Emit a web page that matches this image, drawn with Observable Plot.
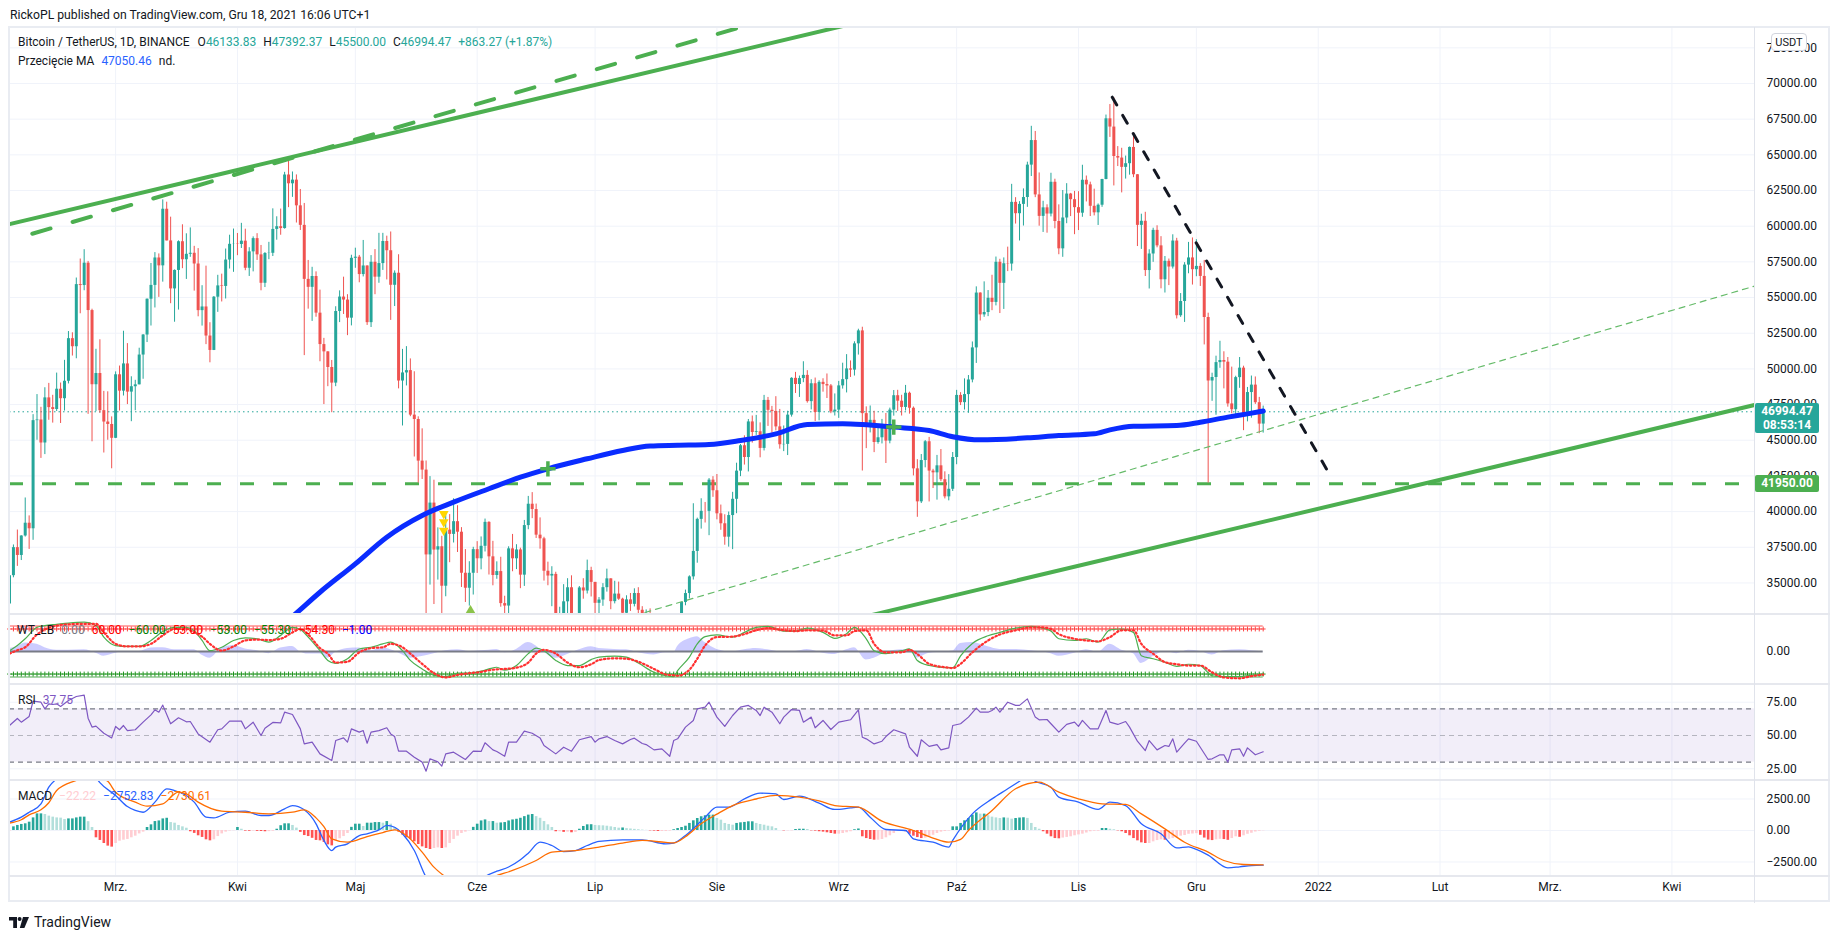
<!DOCTYPE html>
<html>
<head>
<meta charset="utf-8">
<title>Bitcoin / TetherUS, 1D, BINANCE</title>
<script src="https://cdn.jsdelivr.net/npm/d3@7"></script>
<script src="https://cdn.jsdelivr.net/npm/@observablehq/plot@0.6"></script>
<style>
  html, body { margin: 0; padding: 0; background: #fff; }
  body { width: 1834px; height: 939px; position: relative; overflow: hidden;
         font-family: Roboto, "Liberation Sans", sans-serif; color: #131722; }
  .abs { position: absolute; }
  .pane svg { display: block; overflow: visible; }
  .legend { position: absolute; font-size: 12px; line-height: 16px; white-space: nowrap; }
  .legend span { margin-right: 7px; }
  .tag { position: absolute; color: #fff; font-size: 12px; font-weight: 700; text-align: center;
         border-radius: 2px; line-height: 14px; }
</style>
</head>
<body>
<div class="abs" style="left:10px; top:7px; font-size:12.2px; line-height:16px; color:#131722;">RickoPL published on TradingView.com, Gru 18, 2021 16:06 UTC+1</div>
<script>
// ---------------------------------------------------------------------------
// Daily BTC/USDT candles, 2021-02-02 .. 2021-12-18 (open = previous close)
// ---------------------------------------------------------------------------
const firstOpen = 33520;
const lastOpen = 46133.83;
const closes = [
  35510,37473,36926,38290,39186,38796,46374,46420,44807,47969,47287,47153,48577,47911,49133,52119,51553,55906,55841,57408,54088,48891,49676,47073,46276,46106,45135,
  49587,48440,50349,48374,48751,48882,50971,52375,54884,55851,57773,57221,61188,58968,55605,56900,58912,57648,58030,58102,57351,54083,54340,52303,51293,55025,55817,55777,57628,58730,58741,
  58720,58950,57051,58202,59129,57991,56000,58088,58102,59774,59965,59835,63588,62971,63229,61427,60058,56274,55716,56474,53906,51705,51194,50097,49004,54021,55034,54824,53555,57750,
  57828,56610,57213,53241,57473,56428,57380,58928,58280,55859,56704,49150,49716,49880,46760,46456,43538,42909,36964,40596,37304,37537,34770,38705,38403,39294,38556,35680,34628,35678,37333,
  36693,37568,39246,36830,35520,35797,33552,33380,37389,36693,37313,35546,39020,40516,40144,38349,38092,35820,35484,35600,31608,32509,33678,34663,31594,32243,34650,34435,35868,35040,
  33572,33802,34669,35287,33690,34220,33862,32875,33815,33502,34259,33086,32729,32820,31880,31383,31520,31778,30839,29791,32144,32287,33634,34258,35425,37208,39456,40019,40016,42206,41461,
  39845,39147,38207,39723,40862,42836,44614,43792,46285,45543,45595,44428,47793,47096,47019,45936,44686,44709,46760,49339,48905,49321,49546,47706,48960,46942,49058,48902,48806,46985,47112,
  48810,49246,49999,49915,51756,52663,46864,46048,46395,44843,45173,46025,44940,47112,48121,47737,47299,48293,47242,42996,40683,43578,44895,42839,42716,43208,42235,41034,41564,43790,
  48141,47634,48200,49224,51471,55315,53785,53951,54949,54659,57471,55996,57367,57347,61672,60875,61528,62009,64280,66001,62193,60688,61286,60852,63078,60328,58413,60575,62253,61859,61300,
  60911,63219,62896,61395,60937,61470,63273,67525,66947,64882,64774,64122,64380,65519,63606,60058,60344,56891,58052,59707,58622,56247,57541,57138,58960,53726,54721,57274,57776,56950,
  57184,56480,53601,49152,49396,50441,50589,50471,47545,47140,49389,50053,46702,48343,48864,47632,46131.2,46994.47
];
const highs = [
  35984,37662,38708,38310,40955,39700,46794,48200,47310,48678,48985,48150,49707,49010,50600,52618,52530,56368,57700,58352,57533,54183,51374,52041,48425,48394,46638,
  49790,50200,52640,51773,49448,49200,51450,52402,54900,57387,58150,58058,61844,61683,60633,56938,58974,60100,59468,59880,58589,58430,55830,57200,53237,55073,56559,56640,58400,59368,59800,
  59490,60200,59791,58493,59252,59476,58650,58153,58869,61217,60659,61200,63774,64854,63800,63594,62572,61593,57600,57119,56800,55521,52140,51200,50591,54357,55468,56428,55200,57963,
  58458,57950,59000,57220,57939,58360,59500,59500,59300,59595,56868,58000,51367,51560,50700,49800,46643,45800,43546,42451,42200,38861,38270,39920,39791,40900,40411,38877,37338,36488,37499,
  37894,38225,39476,39289,37917,36480,36800,34068,37534,38400,37680,37436,39380,41064,41330,40527,39559,38202,36457,36137,35750,33298,34881,35298,35500,32730,34749,35297,36600,36100,
  35036,33977,34951,35967,35293,35118,35059,33929,34100,34262,34590,34666,33337,33114,33185,32249,31949,32435,31899,31063,32858,32591,33650,34500,35500,40550,39542,40900,40640,42316,42448,
  42599,40459,39780,39969,41350,43392,44700,45310,46454,46700,46743,46218,48144,48000,47372,48053,47160,46000,47033,49382,49757,49500,50500,49875,49240,49358,49171,49309,49644,48906,48246,
  49125,50400,51000,50558,51900,52780,52920,47340,47400,47031,45987,46460,46876,47250,48484,48500,48150,48843,48372,47333,43639,44000,44978,45200,42963,43937,44350,42787,42590,44141,
  48495,48336,49300,49536,51886,55750,55332,56100,55490,56561,57839,57680,57777,58532,62933,62000,61720,62614,64486,67000,66639,63732,61747,61500,63710,63293,61496,62499,62980,62300,62437,
  62419,64270,63516,63086,62595,61560,63286,67789,68524,69000,65579,65460,64915,65550,66401,63617,60840,60976,58350,59859,60030,59266,57875,57700,59398,59150,55280,57445,58865,59176,
  59053,57375,57600,53904,49699,50891,51936,51200,50797,50125,49485,50797,50189,48700,49500,49436,48004,47392.37
];
const lows = [
  33418,35362,36161,36570,38215,37351,37988,45000,43727,43994,46400,46202,47014,46174,47047,48947,50901,50710,53863,55477,46815,44892,47003,46882,44106,45000,43000,
  45115,47047,48100,47500,46300,47070,48882,49274,51846,53005,54269,55013,56079,58966,54568,53271,54123,57023,56270,57820,55450,53650,53000,51700,50427,51283,53961,54691,54900,57000,56769,
  57935,58439,56880,56478,56800,57600,55473,55700,57654,57875,59018,59366,59792,61301,62020,60222,59700,50931,54187,53328,53621,50500,47500,48753,46930,48754,53244,53814,52330,53013,
  57050,56035,56444,53046,52900,55200,56000,56900,56235,53400,54370,48600,46000,48805,46650,43825,42001,42250,30000,34850,33488,35200,31111,34031,36419,37800,37134,34684,33632,33379,34153,
  35667,35920,37170,35555,34800,35258,33300,31000,32396,35784,35936,34600,34757,38730,39506,38116,37365,35129,34803,33336,31251,28805,31683,32286,31275,30151,32000,33862,34225,34017,
  32711,32699,33363,34357,33125,33532,33777,32077,32261,33004,33320,32658,32202,31550,31133,31020,31179,31108,30407,29278,29482,31708,32000,33401,33881,35205,36383,38772,39200,38313,41000,
  39422,38690,37642,37508,37332,39853,42450,43261,42779,44800,45341,43770,44250,45971,45500,45660,44376,44203,43927,46622,48280,48000,49034,47600,47126,46315,46361,48370,47925,46862,46700,
  46533,48584,48316,49400,49500,50969,42843,44412,45514,44132,44722,44742,43370,44750,46689,47020,46699,47050,46829,42500,39600,40565,43067,40675,41616,40803,42098,40888,40753,41410,
  43283,47430,47119,46891,49022,50382,53357,53617,53661,54080,54415,53879,54167,56818,56850,60150,58963,60012,61322,63481,62000,60000,59562,59510,60650,59817,58000,57820,60174,60674,59405,
  59695,60624,61700,60677,60721,60050,61322,63250,66222,62822,64180,62333,63303,63576,63400,58574,58373,56474,55600,57469,58486,55610,55317,55837,57000,53500,53610,53256,56666,55875,
  56458,55777,51680,42000,47727,46752,50040,48600,47320,46852,46751,48638,45672,46290,46547,47511,45456,45500
];

// 200-day moving average, [day index, value]
const ma200 = [[66,31300],[72,32650],[79,34350],[88,36340],[96,38210],[105,39730],[113,40660],[122,41600],[130,42410],[137,43000],[147,43700],[156,44280],[163,44600],[170,44650],[178,44700],[186,44980],[195,45450],[203,46100],[212,46150],[217,46100],[225,45920],[234,45680],[240,45250],[247,45030],[259,45170],[267,45330],[276,45450],[280,45730],[286,45980],[297,46030],[303,46260],[310,46620],[315,46850],[319,47050.46]];
const maCrosses = [[137, 43000], [225, 45920]];
const sellMarks = [[110.5, 39840], [110.5, 39260], [110.5, 38680]];
const buyMarks = [[117.3, 33070]];

// Drawn trend lines, [day index, price]
const channelTop = [[-2, 60010], [215, 74220]];
const channelTopDashed = [[5.8, 59470], [190, 74260]];
const channelBottom = [[219, 32730], [446, 47600]];
const risingSupport = [[159, 32710], [446, 55960]];
const fallingResistance = [[280.6, 69040], [335.5, 42800]];
const support = 41950;

// WaveTrend [day index, wt1, wt2]
const waveTrend = [[0,2,-5],[2,14,3],[4,30,10],[7,57,40],[9,61,52],[12,64,61],[15,67,64],[19,69,65],[22,61,65],[24,34,45],[27,14,18],[30,12,12],[33,12,12],[36,26,18],[39,47,38],[42,57,53],[45,57,53],[47,49,45],[49,26,35],[51,2,18],[54,10,2],[57,26,12],[60,32,26],[63,30,28],[66,22,27],[69,38,30],[72,57,45],[74,52,53],[76,34,40],[79,2,8],[81,-21,-5],[83,-28,-26],[86,-17,-24],[89,6,-2],[92,10,8],[95,18,10],[97,22,18],[100,2,10],[102,-21,-5],[105,-41,-29],[108,-56,-51],[111,-59,-61],[114,-51,-55],[117,-51,-51],[120,-46,-48],[122,-41,-44],[124,-37,-42],[126,-44,-41],[129,-33,-38],[132,-5,-26],[134,8,-5],[136,2,4],[139,-21,-5],[142,-33,-26],[145,-33,-37],[148,-19,-30],[150,-13,-20],[154,-11,-16],[157,-13,-17],[160,-27,-24],[164,-49,-41],[167,-57,-54],[169,-59,-56],[170,-45,-57],[173,-13,-43],[175,18,-17],[177,35,14],[180,39,34],[184,34,35],[187,45,41],[190,57,50],[193,59,55],[197,48,50],[200,48,48],[203,55,50],[207,45,49],[210,31,38],[213,42,38],[215,57,48],[218,30,50],[220,2,18],[223,-5,-2],[227,2,-2],[229,6,4],[231,-21,-6],[234,-33,-29],[238,-38,-37],[240,-38,-39],[242,-10,-29],[245,19,-2],[249,37,26],[252,45,40],[256,55,50],[260,59,57],[262,57,57],[265,48,53],[267,30,41],[271,26,30],[274,30,26],[277,22,24],[280,51,34],[283,53,50],[286,45,50],[288,-10,18],[291,-17,-5],[294,-25,-25],[297,-35,-30],[300,-30,-33],[303,-33,-33],[306,-57,-49],[309,-59,-61],[313,-59,-63],[316,-56,-58],[319,-55.3,-54.3]];
const wtLevels = {ob1: 60, ob2: 53, os1: -60, os2: -53};

// RSI(14) [day index, value]
const rsi = [[0,57.5],[2,62.8],[3,60],[5,64.3],[6,75.8],[8,75],[9,70],[10,73.8],[11,73.3],[12,73.8],[13,71.8],[15,76.3],[17,79.3],[19,80.3],[20,63],[21,56.3],[22,57],[24,51.7],[26,48.2],[27,56.8],[28,54.3],[29,57.5],[30,53.7],[32,54.3],[34,60],[36,65.5],[37,69.3],[38,67.5],[39,72.8],[41,58.8],[43,63.3],[45,60.3],[46,60.5],[48,51.2],[51,45],[53,54.3],[54,55],[56,60.8],[59,60.8],[60,55],[62,60],[64,50],[65,55.5],[67,59.8],[69,59.5],[70,67.5],[72,65.8],[74,55],[75,43.7],[77,45],[79,36.2],[82,31.2],[83,46.2],[85,48.2],[86,45],[87,55],[89,52.5],[90,53.7],[91,44.2],[92,52.5],[94,53.7],[96,55.8],[97,51.2],[98,49.2],[99,38.2],[101,38.2],[103,33.7],[105,30],[106,23.2],[107,32.5],[109,30.2],[110,27],[111,36.2],[113,37.5],[116,32],[118,38.2],[120,38],[121,44.5],[123,39.2],[124,38],[126,34.4],[127,45],[129,45],[131,53.3],[133,51.7],[135,48.2],[136,42.5],[139,36.2],[141,41.2],[143,38.2],[145,46.8],[148,49.2],[149,45],[150,47.5],[152,49.2],[154,46.2],[156,43.7],[158,47],[159,48],[161,44],[162,43.2],[164,39.2],[166,40],[168,34.4],[169,46.2],[170,47.5],[172,56.3],[174,61.3],[175,70],[177,71.3],[178,75],[180,63.8],[182,56.8],[184,65],[186,71.3],[188,72.6],[190,68.8],[191,65],[192,71.3],[194,67.5],[196,58.8],[197,63.8],[199,69.5],[201,68.8],[202,60],[204,63.8],[205,55.8],[207,61.3],[209,54.5],[211,60],[214,61.8],[216,69.3],[217,48.7],[218,47.5],[220,43.7],[222,45.7],[223,49.2],[225,54.3],[228,51.2],[229,41.2],[231,34.4],[232,46.8],[234,41.8],[236,43.2],[237,39.2],[239,40.7],[240,57.5],[242,58.8],[244,63.8],[246,70.6],[247,67.5],[249,67.5],[250,68.8],[251,71.3],[252,67.5],[254,75],[256,72.6],[257,72.6],[259,77.5],[261,63.8],[262,61.8],[264,62],[265,58.8],[267,52.5],[269,58.3],[271,60],[272,56.8],[273,61.3],[275,55],[277,55],[279,68.8],[280,60],[282,58.3],[284,60.5],[285,56.3],[287,45.7],[289,38.7],[290,46.2],[292,39.2],[294,42.5],[295,41.8],[296,47.5],[297,37.5],[299,44.3],[300,47.5],[302,45.7],[305,32],[306,32.5],[308,35.5],[309,35.5],[310,30],[311,39.2],[313,40],[314,34.4],[315,40.7],[317,35.5],[319,37.75]];
const rsiLevels = [70, 50, 30];

// MACD(12, 26, 9)
const macdLine = [[0,660],[3,1060],[5,1450],[8,2115],[10,3440],[12,4100],[15,4700],[18,5100],[20,4900],[22,4200],[23,3800],[27,2780],[30,1900],[32,1590],[34,1450],[37,2250],[40,3310],[42,3170],[45,2780],[47,2250],[50,1060],[52,1000],[56,1450],[60,1530],[64,1190],[66,1190],[70,1720],[72,1980],[75,1640],[78,530],[80,-790],[82,-1590],[83,-1320],[86,-1060],[89,-400],[91,-260],[94,50],[96,400],[98,260],[100,-260],[103,-1590],[106,-3700],[109,-4700],[112,-5200],[116,-4800],[119,-4100],[121,-3650],[124,-3230],[127,-2900],[130,-2330],[132,-1800],[135,-930],[138,-1190],[141,-1670],[144,-1590],[147,-1190],[150,-870],[156,-740],[161,-740],[167,-1060],[169,-1000],[172,-400],[177,1060],[180,1850],[183,1850],[187,2510],[191,2960],[195,2900],[197,2460],[201,2730],[206,2170],[210,1670],[214,1790],[216,1850],[219,1060],[223,80],[228,0],[230,-660],[235,-930],[239,-1320],[240,-790],[245,1320],[250,2510],[254,3310],[257,3910],[259,4300],[261,3910],[265,3440],[267,2650],[272,2250],[277,1670],[280,2250],[284,1980],[288,530],[293,-260],[297,-1380],[300,-1300],[302,-1500],[305,-1950],[310,-2960],[313,-2880],[316,-2780],[319,-2752.83]];
const signalLine = [[0,580],[3,850],[5,1245],[8,1640],[10,2200],[12,3170],[17,3970],[19,4200],[21,4300],[23,4150],[25,3900],[27,3040],[32,2250],[35,1930],[39,2120],[43,3040],[45,2900],[48,2250],[54,1530],[60,1450],[66,1320],[72,1450],[75,1640],[78,1000],[80,300],[82,-660],[86,-930],[91,-480],[95,-160],[98,50],[101,-400],[105,-1720],[108,-2910],[111,-3700],[114,-4300],[118,-4400],[121,-4000],[123,-3700],[128,-3170],[134,-2380],[138,-1720],[144,-1590],[150,-1320],[156,-1000],[161,-790],[167,-950],[169,-980],[172,-500],[176,530],[180,1300],[184,1980],[190,2500],[195,2780],[201,2650],[206,2350],[210,1980],[216,1850],[222,740],[230,0],[235,-600],[239,-930],[242,-700],[244,0],[250,1590],[256,3310],[262,3840],[267,3040],[272,2510],[278,2120],[284,2070],[288,1320],[294,130],[299,-930],[305,-1720],[309,-2380],[314,-2700],[319,-2730.61]];
const macdHist = [
  -50,290,400,480,530,660,1000,1320,1320,1270,1140,1060,1000,980,870,920,920,1000,1060,1060,700,240,-580,-790,-1030,-1240,-1320,
  -1030,-850,-770,-710,-580,-450,-270,-130,240,450,710,760,920,970,630,580,400,290,180,-100,-230,-420,-550,-740,-820,-740,-480,-270,-130,-40,-20,
  240,100,-50,-60,-50,-70,-80,-100,-90,-60,100,380,530,530,400,190,-150,-400,-480,-620,-790,-820,-950,-1140,-1220,-820,-660,-480,-240,250,
  500,500,320,580,580,630,630,580,710,500,240,-130,-370,-580,-710,-900,-1110,-1300,-1430,-1510,-1430,-1380,-1430,-1380,-1030,-710,-450,-240,-130,-20,250,
  500,760,840,710,710,580,600,630,760,840,890,970,1100,1220,1270,1100,970,710,450,240,-100,-100,-150,-130,-180,-150,100,320,450,460,
  400,380,370,340,290,240,185,200,150,120,90,60,30,10,-30,-50,-80,-80,-80,-50,60,160,240,340,560,770,950,1090,1170,1220,1220,
  950,820,560,480,420,560,610,640,690,690,560,480,420,340,290,160,0,-30,-30,-30,80,100,100,80,-30,-50,-100,-130,-180,-240,-290,
  -290,-240,-180,-100,60,120,-500,-640,-715,-770,-770,-715,-580,-420,-240,-80,-60,-100,-300,-450,-560,-640,-610,-510,-380,-240,-130,-80,-40,290,
  290,560,770,950,1220,1400,1300,1300,1170,1060,1000,950,1000,980,900,950,990,1010,960,560,240,100,-100,-290,-500,-640,-660,-600,-550,-500,-420,
  -350,-290,-200,-100,-60,-60,160,160,100,60,-30,-100,-240,-420,-640,-820,-980,-1030,-1030,-900,-800,-740,-770,-700,-640,-560,-450,-400,-300,-280,
  -250,-380,-600,-760,-800,-740,-700,-720,-780,-640,-500,-540,-420,-300,-220,-120,-60,-22.22
];

// Axis ticks and labels
const priceTicks = [35000,37500,40000,42500,45000,47500,50000,52500,55000,57500,60000,62500,65000,67500,70000,72500];
const wtTicks = [0];
const rsiTicks = [25, 50, 75];
const macdTicks = [-2500, 0, 2500];
const monthStarts = ["2021-03-01","2021-04-01","2021-05-01","2021-06-01","2021-07-01","2021-08-01","2021-09-01","2021-10-01","2021-11-01","2021-12-01","2022-01-01","2022-02-01","2022-03-01","2022-04-01"];
const monthLabels = ["Mrz.","Kwi","Maj","Cze","Lip","Sie","Wrz","Paź","Lis","Gru","2022","Lut","Mrz.","Kwi"];

// ---------------------------------------------------------------------------
const up = "#26a69a", down = "#ef5350", grid = "#f0f3fa";
const t0 = Date.UTC(2021, 1, 2);
const day = i => new Date(t0 + i * 864e5);
const xDomain = [day(0), day(444.27)];
const W = 1834, marginLeft = 9, marginRight = 79;
const n = closes.length;

const candles = closes.map((c, i) => {
  const open = i === 0 ? firstOpen : i === n - 1 ? lastOpen : closes[i - 1];
  return {date: day(i), open, close: c, high: highs[i], low: lows[i], color: c >= open ? up : down};
});
const months = monthStarts.map((s, k) => ({date: new Date(s + "T00:00:00Z"), label: monthLabels[k]}));
const pts = a => a.map(([i, v]) => ({date: day(i), v}));
const fmt = d => d.toFixed(2).replace("-", "\u2212");

function pane(top, height, yDomain, ticks, marks, marginBottom = 0) {
  const svg = Plot.plot({
    width: W, height, marginLeft, marginRight, marginTop: 0, marginBottom,
    x: {type: "utc", domain: xDomain, axis: null},
    y: {domain: yDomain, label: null},
    color: {type: "identity"},
    style: {background: "transparent", overflow: "visible", color: "#131722",
            fontFamily: "Roboto, 'Liberation Sans', sans-serif"},
    marks: [
      Plot.gridX(months.map(d => d.date), {stroke: grid, strokeOpacity: 1}),
      ...marks,
      Plot.axisY(ticks, {anchor: "right", label: null, tickSize: 0, tickPadding: 11, tickFormat: fmt, fontSize: 12})
    ]
  });
  const div = document.createElement("div");
  div.className = "abs pane";
  div.style.left = "0px";
  div.style.top = top + "px";
  div.appendChild(svg);
  document.body.appendChild(div);
  return svg;
}

// --- price pane ---
const mainTop = 27;
const line = (data, o) => Plot.line(pts(data), {x: "date", y: "v", clip: true, ...o});
const mainSvg = pane(mainTop, 587, [32789, 73924], priceTicks, [
  Plot.gridY(priceTicks, {stroke: grid, strokeOpacity: 1}),
  Plot.ruleY([support], {stroke: "#4caf50", strokeWidth: 3, strokeDasharray: "14,19"}),
  Plot.ruleY([closes[n - 1]], {stroke: up, strokeWidth: 1, strokeDasharray: "1.5,3"}),
  Plot.ruleX(candles, {x: "date", y1: "low", y2: "high", stroke: "color", strokeWidth: 1, clip: true}),
  Plot.ruleX(candles, {x: "date", y1: "open", y2: "close", stroke: "color", strokeWidth: 3, clip: true}),
  line(risingSupport, {stroke: "#66bb6a", strokeWidth: 1.2, strokeDasharray: "6,5"}),
  line(ma200, {stroke: "#0a2cff", strokeWidth: 5, curve: "monotone-x"}),
  line(channelTop, {stroke: "#4caf50", strokeWidth: 4}),
  line(channelTopDashed, {stroke: "#4caf50", strokeWidth: 4, strokeDasharray: "19,23"}),
  line(channelBottom, {stroke: "#4caf50", strokeWidth: 4}),
  line(fallingResistance, {stroke: "#131722", strokeWidth: 3, strokeDasharray: "9,12"}),
  Plot.dot(pts(maCrosses), {x: "date", y: "v", symbol: "plus", r: 5, stroke: "#4caf50", strokeWidth: 3.5}),
  Plot.dot(pts(sellMarks), {x: "date", y: "v", symbol: "triangle", rotate: 180, r: 3.6, fill: "#ffd600", stroke: "none"}),
  Plot.dot(pts(buyMarks), {x: "date", y: "v", symbol: "triangle", r: 3.6, fill: "#8bc34a", stroke: "none"})
]);

// --- WaveTrend pane ---
const wtRows = waveTrend.map(([i, a, b]) => ({date: day(i), wt1: a, wt2: b, diff: a - b}));
const span = [{x1: day(0), x2: day(n - 1)}];
const wtSvg = pane(614, 70, [-77.6, 87.1], wtTicks, [
  Plot.areaY(wtRows, {x: "date", y: "diff", fill: "#0000ff", fillOpacity: 0.2, curve: "monotone-x"}),
  Plot.ruleY(span, {x1: "x1", x2: "x2", y: () => 0, stroke: "#787b86", strokeWidth: 2}),
  Plot.ruleY(span, {x1: "x1", x2: "x2", y: () => wtLevels.ob1, stroke: "#ff0000", strokeOpacity: 0.45, strokeWidth: 1.6}),
  Plot.ruleY(span, {x1: "x1", x2: "x2", y: () => wtLevels.os1, stroke: "#008000", strokeOpacity: 0.45, strokeWidth: 1.6}),
  Plot.dot(candles, {x: "date", y: () => wtLevels.ob2, symbol: "plus", r: 1.7, stroke: "#ff3030", strokeWidth: 0.9}),
  Plot.dot(candles, {x: "date", y: () => wtLevels.os2, symbol: "plus", r: 1.7, stroke: "#0a8a0a", strokeWidth: 0.9}),
  Plot.line(wtRows, {x: "date", y: "wt1", stroke: "#4caf50", strokeWidth: 1.2, curve: "monotone-x"}),
  Plot.line(wtRows, {x: "date", y: "wt2", stroke: "#ff3030", strokeWidth: 2.2, strokeDasharray: "1.5,2.5", curve: "monotone-x"})
]);

// --- RSI pane ---
const rsiSvg = pane(684, 96, [16.2, 88.3], rsiTicks, [
  Plot.gridY([25, 75], {stroke: grid, strokeOpacity: 1}),
  Plot.rect([{x1: xDomain[0], x2: xDomain[1]}], {x1: "x1", x2: "x2", y1: () => rsiLevels[2], y2: () => rsiLevels[0], fill: "#7e57c2", fillOpacity: 0.1}),
  Plot.ruleY([rsiLevels[0], rsiLevels[2]], {stroke: "#787b86", strokeWidth: 1.2, strokeDasharray: "5,4"}),
  Plot.ruleY([rsiLevels[1]], {stroke: "#787b86", strokeOpacity: 0.5, strokeWidth: 1.2, strokeDasharray: "5,4"}),
  Plot.line(pts(rsi), {x: "date", y: "v", stroke: "#7e57c2", strokeWidth: 1.2})
]);

// --- MACD pane with the time axis underneath ---
const histRows = macdHist.map((v, i) => {
  const prev = i ? macdHist[i - 1] : v;
  const color = v >= 0 ? (v >= prev ? "#26a69a" : "#b2dfdb") : (v < prev ? "#ff5252" : "#ffcdd2");
  return {date: day(i), v, color};
});
const macdSvg = pane(780, 123, [-3651, 3968], macdTicks, [
  Plot.gridY(macdTicks, {stroke: grid, strokeOpacity: 1}),
  Plot.ruleX(histRows, {x: "date", y1: () => 0, y2: "v", stroke: "color", strokeWidth: 2.6}),
  line(macdLine, {stroke: "#2962ff", strokeWidth: 1.3, curve: "monotone-x"}),
  line(signalLine, {stroke: "#ff6d00", strokeWidth: 1.3, curve: "monotone-x"}),
  Plot.text(months, {x: "date", text: "label", frameAnchor: "bottom", dy: 14, fontSize: 12, fill: "#131722",
                     fontWeight: d => d.label === "2022" ? 700 : 400})
], 27);

// --- frame, separators ---
function box(style) {
  const d = document.createElement("div");
  d.className = "abs";
  Object.assign(d.style, style);
  document.body.appendChild(d);
  return d;
}
box({left: "8px", top: "26px", width: "1822px", height: "876px", border: "2px solid #e9ecf2", boxSizing: "border-box"});
for (const y of [614, 684, 780, 876]) box({left: "9px", top: (y - 1) + "px", width: "1821px", height: "2px", background: "#e6e8ee"});
box({left: "1754px", top: "27px", width: "1px", height: "876px", background: "#e0e3eb"});

// --- price tags on the scale ---
const yMain = mainSvg.scale("y");
function tag(value, lines, color, h) {
  const d = box({left: "1755px", width: "64px", height: h + "px", top: (mainTop + yMain.apply(value) - (lines.length > 1 ? 8 : h / 2)) + "px",
                 background: color});
  d.className = "tag";
  d.innerHTML = lines.map(s => `<div>${s}</div>`).join("");
  d.style.paddingTop = lines.length > 1 ? "1px" : "1.5px";
  d.style.boxSizing = "border-box";
}
tag(closes[n - 1], [closes[n - 1].toFixed(2), "08:53:14"], up, 30);
tag(support, [support.toFixed(2)], "#4caf50", 17);
const usdt = box({left: "1771px", top: "33px", width: "36px", height: "18px", background: "#fff", border: "1px solid #d1d4dc",
                  borderRadius: "4px", fontSize: "11px", lineHeight: "17px", textAlign: "center", boxSizing: "border-box"});
usdt.textContent = "USDT";

// --- legends ---
function legend(x, y, parts) {
  const d = box({left: x + "px", top: (y - 8) + "px"});
  d.className = "legend";
  d.innerHTML = parts.map(([t, c]) => `<span style="color:${c}">${t}</span>`).join("");
}
const c = candles[n - 1];
const dark = "#131722";
box({left: "18px", top: "34px", fontSize: "12px", lineHeight: "16px", whiteSpace: "nowrap"}).innerHTML =
  `<span style="margin-right:8px">Bitcoin / TetherUS, 1D, BINANCE</span>` +
  [["O", c.open], ["H", c.high], ["L", c.low], ["C", c.close]]
    .map(([k, v]) => `<span style="margin-right:7px">${k}<span style="color:${up}">${v.toFixed(2)}</span></span>`).join("") +
  `<span style="color:${up}">+863.27 (+1.87%)</span>`;
legend(18, 61, [["Przecięcie MA", dark], [ma200[ma200.length - 1][1].toFixed(2), "#2962ff"], ["nd.", dark]]);
const lastWt = waveTrend[waveTrend.length - 1];
legend(17, 630, [["WT_LB", dark], ["0.00", "#787b86"], [fmt(wtLevels.ob1), "#ff0000"], [fmt(wtLevels.os1), "#008000"],
                 [fmt(wtLevels.ob2), "#ff0000"], [fmt(wtLevels.os2), "#008000"], [fmt(lastWt[1]), "#008000"],
                 [fmt(lastWt[2]), "#ff0000"], [fmt(lastWt[1] - lastWt[2]), "#0000ff"]]);
legend(18, 700, [["RSI", dark], [rsi[rsi.length - 1][1].toFixed(2), "#7e57c2"]]);
legend(18, 796, [["MACD", dark], [fmt(macdHist[n - 1]), "#ffcdd2"], [fmt(macdLine[macdLine.length - 1][1]), "#2962ff"],
                 [fmt(signalLine[signalLine.length - 1][1]), "#ff6d00"]]);

// --- footer ---
const foot = box({left: "9px", top: "913px", fontSize: "14px", lineHeight: "18px", display: "flex", alignItems: "center"});
foot.innerHTML = `<svg width="20" height="11" viewBox="0 0 20 11" style="margin-right:5px"><path d="M0 0h8v11H4.2V3.4H0z" fill="#131722"/><circle cx="10.6" cy="2" r="2" fill="#131722"/><path d="M14 0h6l-4.6 11h-4.6z" fill="#131722"/></svg><span>TradingView</span>`;
</script>
</body>
</html>
